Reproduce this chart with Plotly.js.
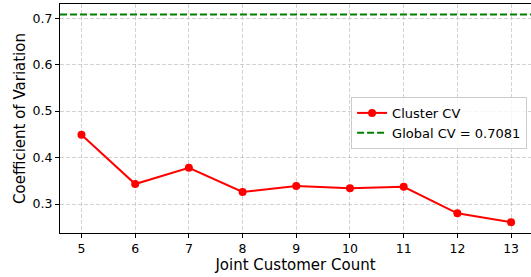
<!DOCTYPE html>
<html><head><meta charset="utf-8">
<script src="https://cdn.plot.ly/plotly-3.0.1.min.js"></script>
<style>html,body{margin:0;padding:0;background:#fff}#chart{width:531px;height:277px}</style>
</head><body><div id="chart"></div>
<script>
const jointCounts = [5, 6, 7, 8, 9, 10, 11, 12, 13];
const clusterCV = [0.449, 0.343, 0.378, 0.326, 0.339, 0.334, 0.337, 0.280, 0.261];
const globalCV = 0.7081;
const xTickLabels = ['5','6','7','8','9','10','11','12','13'];
const yTickVals = [0.3, 0.4, 0.5, 0.6, 0.7];
const yTickLabels = ['0.3','0.4','0.5','0.6','0.7'];

const xMin = 4.6, xMax = 13.4;
const font = {family: 'DejaVu Sans', color: '#000'};

const traces = [
  {x: jointCounts, y: clusterCV, mode: 'lines+markers', name: 'Cluster CV',
   line: {color: '#ff0000', width: 2}, marker: {color: '#ff0000', size: 8}},
  {x: [xMin, xMax], y: [globalCV, globalCV], mode: 'lines',
   name: 'Global CV = ' + globalCV.toFixed(4),
   line: {color: '#008000', width: 2, dash: '7px,3px'}}
];

const layout = {
  width: 531, height: 277,
  margin: {l: 60, r: 0, t: 4, b: 44},
  paper_bgcolor: '#fff', plot_bgcolor: '#fff',
  font: Object.assign({size: 12.5}, font),
  showlegend: true,
  legend: {x: 0.618, y: 0.594, xanchor: 'left', yanchor: 'top',
    bgcolor: 'rgba(255,255,255,0.8)', bordercolor: '#cccccc', borderwidth: 1,
    font: Object.assign({size: 13}, font), itemwidth: 30, tracegroupgap: 0},
  xaxis: {range: [xMin, xMin + (531-60)/53.7], tickvals: jointCounts, ticktext: xTickLabels,
    showline: true, mirror: true, linecolor: '#000', linewidth: 1,
    ticks: 'outside', ticklen: 4, tickcolor: '#000',
    showgrid: true, gridcolor: 'rgba(170,170,170,0.65)', griddash: '4px,2px', gridwidth: 0.8,
    zeroline: false, tickfont: Object.assign({size: 12.5}, font),
    title: {text: 'Joint Customer Count', font: Object.assign({size: 15}, font), standoff: 4}},
  yaxis: {range: [0.2376, 0.7305], tickvals: yTickVals, ticktext: yTickLabels,
    showline: true, mirror: false, linecolor: '#000', linewidth: 1,
    ticks: 'outside', ticklen: 4, tickcolor: '#000',
    showgrid: true, gridcolor: 'rgba(170,170,170,0.65)', griddash: '4px,2px', gridwidth: 0.8,
    zeroline: false, tickfont: Object.assign({size: 12.5}, font),
    title: {text: 'Coefficient of Variation', font: Object.assign({size: 15}, font), standoff: 3}}
};

Plotly.newPlot('chart', traces, layout, {displayModeBar: false, staticPlot: true});
</script></body></html>
